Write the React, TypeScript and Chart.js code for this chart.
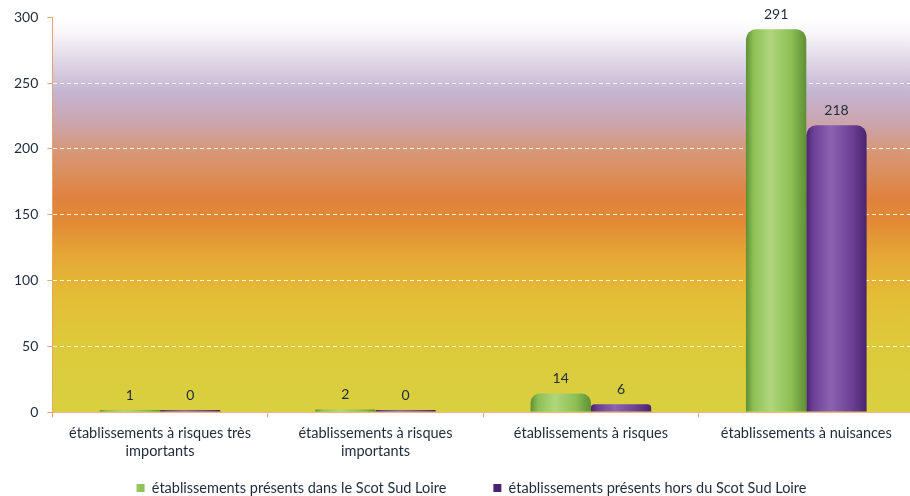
import React, { useEffect, useRef } from "react";
import { Chart, registerables } from "chart.js";

Chart.register(...registerables);

const categories: string[][] = [
  ["établissements à risques très", "importants"],
  ["établissements à risques", "importants"],
  ["établissements à risques"],
  ["établissements à nuisances"],
];
const seriesNames = [
  "établissements présents dans le Scot Sud Loire",
  "établissements présents hors du Scot Sud Loire",
];
const insideScot = [1, 2, 14, 291];
const outsideScot = [0, 0, 6, 218];
const yMin = 0;
const yMax = 300;
const yStep = 50;

const CAT_PCT = 0.56;
const BAR_PCT = 1;
const FONT = 'Lato, "Open Sans", sans-serif';
const TEXT = "#1f2a3a";
const LEGEND_PAD = 47;
const LEGEND_CENTER_Y = 488;
const LEGEND_SHIFT_X = 12;

const makeBarFill = (edge: string, light: string, mid: string, base: string) => (c: any) => {
  if (c.type !== "data") return base;
  const chart = c.chart;
  const xs = chart.scales && chart.scales.x;
  if (!xs || !chart.chartArea) return base;
  const catW = xs.width / categories.length;
  const groupW = catW * CAT_PCT;
  const slot = groupW / 2;
  const barW = slot * BAR_PCT;
  const center = xs.getPixelForValue(c.dataIndex);
  const left = center - groupW / 2 + c.datasetIndex * slot + (slot - barW) / 2;
  const g = chart.ctx.createLinearGradient(left, 0, left + barW, 0);
  g.addColorStop(0, edge);
  g.addColorStop(0.12, mid);
  g.addColorStop(0.4, light);
  g.addColorStop(0.75, mid);
  g.addColorStop(1, edge);
  return g;
};

const bgPlugin = {
  id: "plotBg",
  beforeDraw(chart: any) {
    const { ctx, chartArea: a } = chart;
    if (!a) return;
    const g = ctx.createLinearGradient(0, a.top, 0, a.bottom);
    g.addColorStop(0, "#ffffff");
    g.addColorStop(0.04, "#f8f6f9");
    g.addColorStop(0.19, "#c4b4d2");
    g.addColorStop(0.27, "#cca4ac");
    g.addColorStop(0.34, "#d69876");
    g.addColorStop(0.46, "#e0823e");
    g.addColorStop(0.52, "#e28a36");
    g.addColorStop(0.6, "#e5a636");
    g.addColorStop(0.7, "#e4bc36");
    g.addColorStop(0.83, "#ddca3a");
    g.addColorStop(1, "#d8d040");
    ctx.save();
    ctx.fillStyle = g;
    ctx.fillRect(a.left, a.top, a.right - a.left, a.bottom - a.top);
    ctx.restore();
  },
};

// place legend row (horizontal spacing uses labels.padding) without letting that padding eat layout height
const legendPlace = {
  id: "legendPlace",
  afterLayout(chart: any) {
    const lg = chart.legend;
    if (!lg) return;
    const itemH = 14.5;
    const top = LEGEND_CENTER_Y - itemH / 2 - LEGEND_PAD;
    lg.top = top;
    lg.bottom = chart.height;
    lg.height = chart.height - top;
    lg.left += LEGEND_SHIFT_X;
    lg.right += LEGEND_SHIFT_X;
  },
};

const valuePlugin = {
  id: "valueLabels",
  afterDatasetsDraw(chart: any) {
    const { ctx } = chart;
    ctx.save();
    ctx.font = `14px ${FONT}`;
    ctx.fillStyle = TEXT;
    ctx.textAlign = "center";
    ctx.textBaseline = "middle";
    chart.data.datasets.forEach((ds: any, i: number) => {
      const meta = chart.getDatasetMeta(i);
      meta.data.forEach((el: any, j: number) => {
        ctx.fillText(String(ds.data[j]), el.x, el.y - 15);
      });
    });
    ctx.restore();
  },
};

export default function App() {
  const ref = useRef<HTMLCanvasElement | null>(null);
  useEffect(() => {
    document.body.style.margin = "0";
    const canvas = ref.current;
    if (!canvas) return;
    const chart = new Chart(canvas, {
      type: "bar",
      data: {
        labels: categories,
        datasets: [
          {
            label: seriesNames[0],
            data: insideScot,
            backgroundColor: makeBarFill("#5f8f34", "#b0d67c", "#8cbf55", "#72a843"),
            borderRadius: { topLeft: 10, topRight: 10 },
            borderSkipped: "start",
            minBarLength: 2,
            categoryPercentage: CAT_PCT,
            barPercentage: BAR_PCT,
          },
          {
            label: seriesNames[1],
            data: outsideScot,
            backgroundColor: makeBarFill("#4a2470", "#8c62b2", "#6d4096", "#60338a"),
            borderRadius: { topLeft: 10, topRight: 10 },
            borderSkipped: "start",
            minBarLength: 2,
            categoryPercentage: CAT_PCT,
            barPercentage: BAR_PCT,
          },
        ],
      },
      options: {
        responsive: false,
        animation: false,
        layout: { padding: { left: 5, top: 17, right: 0, bottom: 3 } },
        plugins: {
          legend: {
            position: "bottom",
            maxHeight: 26,
            labels: {
              boxWidth: 8,
              boxHeight: 8,
              padding: LEGEND_PAD,
              color: TEXT,
              font: { family: FONT, size: 14.5 },
            },
          },
          tooltip: { enabled: false },
        },
        scales: {
          x: {
            grid: {
              display: true,
              drawOnChartArea: false,
              drawTicks: true,
              tickLength: 5,
              tickColor: "#e6a47a",
              offset: true,
            },
            border: { color: "#efb48e", width: 1 },
            ticks: {
              color: TEXT,
              font: { family: FONT, size: 14.5, lineHeight: 1.24 },
              padding: 7,
              maxRotation: 0,
              autoSkip: false,
            },
          },
          y: {
            min: yMin,
            max: yMax,
            ticks: {
              stepSize: yStep,
              color: TEXT,
              font: { family: FONT, size: 14 },
              padding: 9,
            },
            grid: {
              color: "rgba(255,255,255,0.9)",
              lineWidth: 1,
              tickColor: "#e6a47a",
              tickLength: 5,
            },
            border: { color: "#e8a272", width: 1, dash: [4, 3] },
          },
        },
      },
      plugins: [bgPlugin, valuePlugin, legendPlace],
    });
    return () => chart.destroy();
  }, []);

  return (
    <div style={{ position: "fixed", left: 0, top: 0, width: 910, height: 496, overflow: "hidden", background: "#fff" }}>
      <canvas ref={ref} width={914} height={496} style={{ display: "block" }} />
    </div>
  );
}
